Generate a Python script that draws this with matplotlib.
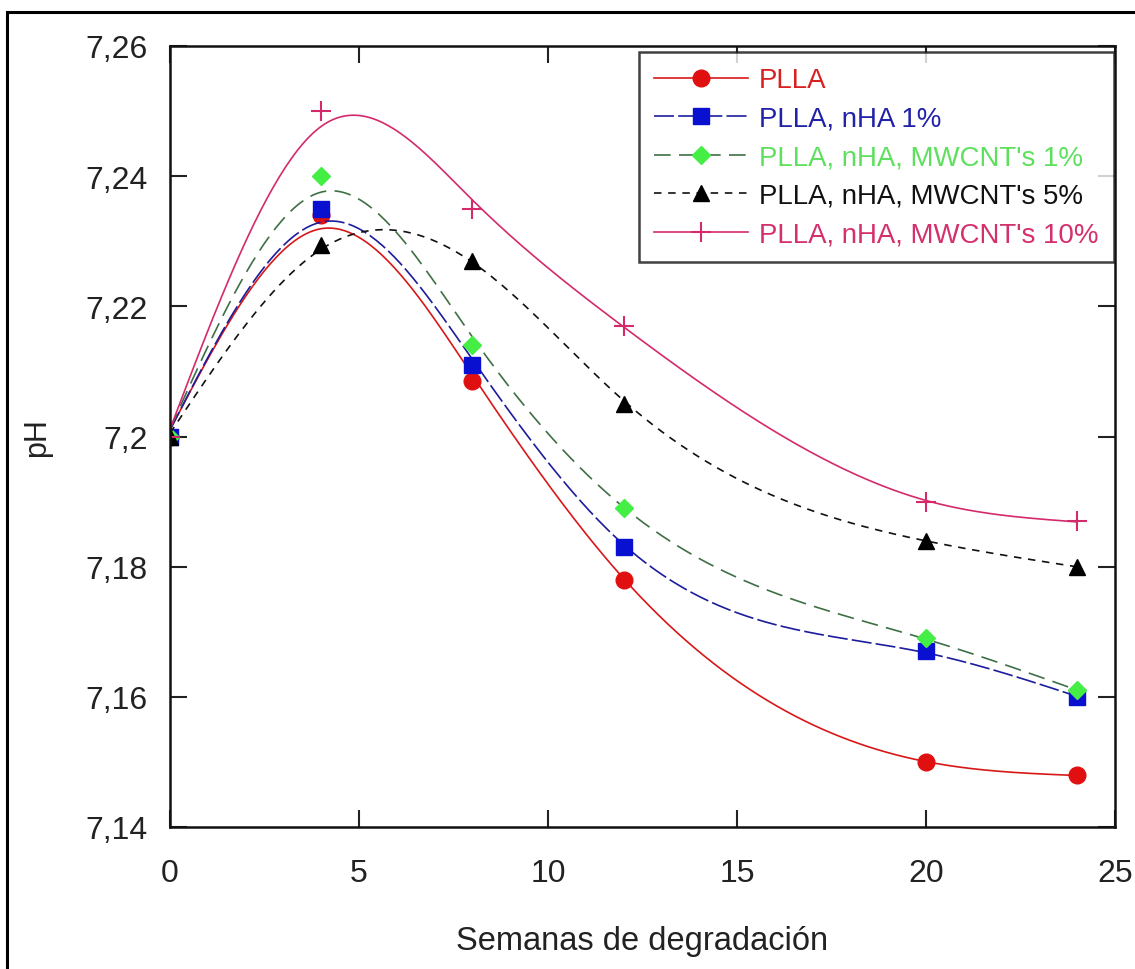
import numpy as np
import matplotlib
matplotlib.use("Agg")
import matplotlib.pyplot as plt
from matplotlib.patches import Rectangle

plt.rcParams['font.family'] = ['Liberation Sans', 'DejaVu Sans']

# semanas
weeks = [0, 4, 8, 12, 20, 24]

# pH por serie
ph_plla = [7.200, 7.234, 7.2085, 7.178, 7.150, 7.148]
ph_nha1 = [7.200, 7.235, 7.211, 7.183, 7.167, 7.160]
ph_mwcnt1 = [7.200, 7.240, 7.214, 7.189, 7.169, 7.161]
ph_mwcnt5 = [7.200, 7.2295, 7.227, 7.205, 7.184, 7.180]
ph_mwcnt10 = [7.200, 7.250, 7.235, 7.217, 7.190, 7.187]

labels = ["PLLA", "PLLA, nHA 1%", "PLLA, nHA, MWCNT's 1%",
          "PLLA, nHA, MWCNT's 5%", "PLLA, nHA, MWCNT's 10%"]

yticks = [7.14, 7.16, 7.18, 7.20, 7.22, 7.24, 7.26]
ytick_labels = ["7,14", "7,16", "7,18", "7,2", "7,22", "7,24", "7,26"]
xticks = [0, 5, 10, 15, 20, 25]


def smooth_curve(x, y, lam=1.0, n=300):
    # smoothing spline (Reinsch) for the drawn line, like the original software
    x = np.asarray(x, float)
    y = np.asarray(y, float)
    k = len(x)
    h = np.diff(x)
    Q = np.zeros((k, k - 2))
    R = np.zeros((k - 2, k - 2))
    for i in range(k - 2):
        Q[i, i] = 1 / h[i]
        Q[i + 1, i] = -1 / h[i] - 1 / h[i + 1]
        Q[i + 2, i] = 1 / h[i + 1]
        R[i, i] = (h[i] + h[i + 1]) / 3
        if i < k - 3:
            R[i, i + 1] = R[i + 1, i] = h[i + 1] / 6
    K = Q @ np.linalg.solve(R, Q.T)
    g = np.linalg.solve(np.eye(k) + lam * K, y)
    M = np.zeros(k)
    M[1:-1] = np.linalg.solve(R, Q.T @ g)
    xs = np.linspace(x[0], x[-1], n)
    idx = np.clip(np.searchsorted(x, xs) - 1, 0, k - 2)
    x0, x1 = x[idx], x[idx + 1]
    hh = x1 - x0
    a = (x1 - xs) / hh
    b = (xs - x0) / hh
    ys = (a * g[idx] + b * g[idx + 1]
          + ((a**3 - a) * M[idx] + (b**3 - b) * M[idx + 1]) * hh**2 / 6)
    return xs, ys


series = [
    (ph_plla, dict(color='#d81818', ls='-', marker='o', mfc='#e01010', mec='#e01010', ms=12), '#d82020'),
    (ph_nha1, dict(color='#1c1c9c', dashes=(12, 2.5), marker='s', mfc='#0a10d0', mec='#0a10d0', ms=12), '#2222a8'),
    (ph_mwcnt1, dict(color='#3f6f45', dashes=(10, 5), marker='D', mfc='#44ee44', mec='#44ee44', ms=9), '#5ee05e'),
    (ph_mwcnt5, dict(color='#111111', dashes=(4.5, 4), marker='^', mfc='black', mec='black', ms=11), '#111111'),
    (ph_mwcnt10, dict(color='#d42a6c', ls='-', marker='+', mfc='#d42a6c', mec='#d42a6c', ms=14, mew=1.5), '#d4306e'),
]

fig = plt.figure(figsize=(11.35, 9.7), dpi=100)
ax = fig.add_axes([170 / 1135, 1 - 828 / 970, 945 / 1135, 781 / 970])

handles = []
for (vals, st, tcol), lab in zip(series, labels):
    xs, ys = smooth_curve(weeks, vals, lam=0.8)
    line_kw = {k: v for k, v in st.items() if k in ('color', 'ls', 'dashes')}
    ax.plot(xs, ys, lw=1.2, **line_kw)
    ax.plot(weeks, vals, ls='none', marker=st['marker'], mfc=st['mfc'],
            mec=st['mec'], ms=st['ms'], mew=st.get('mew', 1.0))
    h, = ax.plot([], [], lw=1.2, marker=st['marker'], mfc=st['mfc'],
                 mec=st['mec'], ms=st['ms'], mew=st.get('mew', 1.0), **line_kw)
    handles.append(h)

ax.set_xlim(0, 25)
ax.set_ylim(7.14, 7.26)
ax.set_xticks(xticks)
ax.set_xticklabels([str(t) for t in xticks])
ax.set_yticks(yticks)
ax.set_yticklabels(ytick_labels)
ax.tick_params(direction='in', length=12, width=1.5, top=True, right=True,
               labelsize=23, colors='#222222', pad=16)
ax.tick_params(axis='x', pad=22)
for sp in ax.spines.values():
    sp.set_linewidth(1.8)
    sp.set_color('#111111')

ax.set_xlabel("Semanas de degradación", fontsize=23.5, color='#222222', labelpad=27)
ax.set_ylabel("pH", fontsize=22, color='#222222', labelpad=24)

leg = ax.legend(handles, labels, loc='upper right', bbox_to_anchor=(0.9985, 0.992),
                fontsize=19.9, frameon=True, fancybox=False, edgecolor='#111111',
                handlelength=3.4, handletextpad=0.4, labelspacing=0.45,
                borderpad=0.55, borderaxespad=0)
leg.get_frame().set_linewidth(1.8)
for txt, (_, _, tcol) in zip(leg.get_texts(), series):
    txt.set_color(tcol)

# marco exterior
fig.patches.append(Rectangle((7 / 1135, -0.05), 1.2, 1.05 - 13 / 970,
                             transform=fig.transFigure, fill=False,
                             edgecolor='black', lw=2.2))

fig.savefig("out.png", dpi=100)
